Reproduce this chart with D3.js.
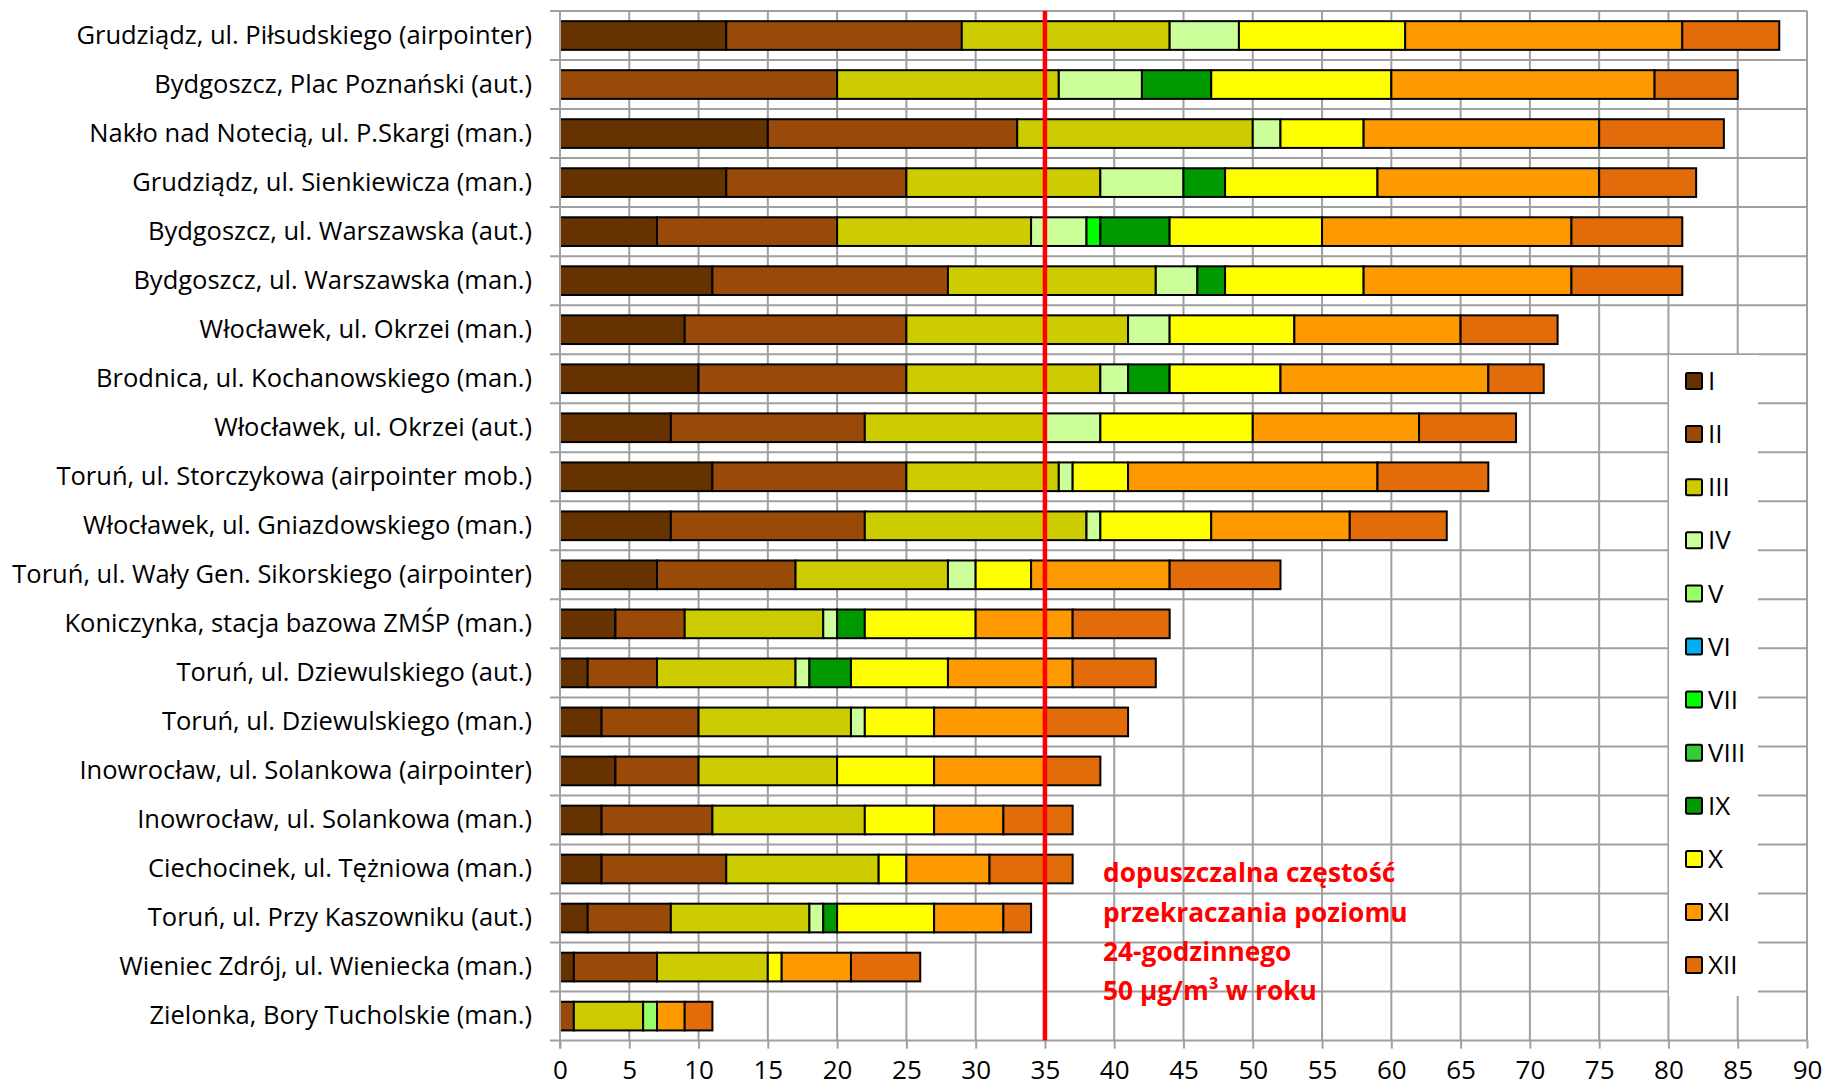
<!DOCTYPE html>
<html>
<head>
<meta charset="utf-8">
<script src="https://cdn.jsdelivr.net/npm/d3@7"></script>
<style>
  body { margin: 0; background: #ffffff; }
  svg { display: block; }
  text { font-family: "Open Sans", Lato, sans-serif; fill: #000; }
</style>
</head>
<body>
<svg id="chart" width="1826" height="1091"></svg>
<script>
// Stations (top to bottom)
const stations = [
  "Grudziądz, ul. Piłsudskiego (airpointer)",
  "Bydgoszcz, Plac Poznański (aut.)",
  "Nakło nad Notecią, ul. P.Skargi (man.)",
  "Grudziądz, ul. Sienkiewicza (man.)",
  "Bydgoszcz, ul. Warszawska (aut.)",
  "Bydgoszcz, ul. Warszawska (man.)",
  "Włocławek, ul. Okrzei (man.)",
  "Brodnica, ul. Kochanowskiego (man.)",
  "Włocławek, ul. Okrzei (aut.)",
  "Toruń, ul. Storczykowa (airpointer mob.)",
  "Włocławek, ul. Gniazdowskiego (man.)",
  "Toruń, ul. Wały Gen. Sikorskiego (airpointer)",
  "Koniczynka, stacja bazowa ZMŚP (man.)",
  "Toruń, ul. Dziewulskiego (aut.)",
  "Toruń, ul. Dziewulskiego (man.)",
  "Inowrocław, ul. Solankowa (airpointer)",
  "Inowrocław, ul. Solankowa (man.)",
  "Ciechocinek, ul. Tężniowa (man.)",
  "Toruń, ul. Przy Kaszowniku (aut.)",
  "Wieniec Zdrój, ul. Wieniecka (man.)",
  "Zielonka, Bory Tucholskie (man.)"
];

// Month keys and their colours
const monthKeys = ["I", "II", "III", "IV", "V", "VI", "VII", "VIII", "IX", "X", "XI", "XII"];
const monthColors = ["#663300", "#994A08", "#CCCC00", "#CCFF99", "#99FF66", "#00B0F0",
                     "#00FF00", "#33CC33", "#009900", "#FFFF00", "#FF9900", "#E36C0A"];

// Days exceeding the 24-hour level, per month, one value per station
const daysI    = [12, 0, 15, 12, 7, 11, 9, 10, 8, 11, 8, 7, 4, 2, 3, 4, 3, 3, 2, 1, 0];
const daysII   = [17, 20, 18, 13, 13, 17, 16, 15, 14, 14, 14, 10, 5, 5, 7, 6, 8, 9, 6, 6, 1];
const daysIII  = [15, 16, 17, 14, 14, 15, 16, 14, 13, 11, 16, 11, 10, 10, 11, 10, 11, 11, 10, 8, 5];
const daysIV   = [5, 6, 2, 6, 4, 3, 3, 2, 4, 1, 1, 2, 1, 1, 1, 0, 0, 0, 1, 0, 0];
const daysV    = [0, 0, 0, 0, 0, 0, 0, 0, 0, 0, 0, 0, 0, 0, 0, 0, 0, 0, 0, 0, 1];
const daysVI   = [0, 0, 0, 0, 0, 0, 0, 0, 0, 0, 0, 0, 0, 0, 0, 0, 0, 0, 0, 0, 0];
const daysVII  = [0, 0, 0, 0, 1, 0, 0, 0, 0, 0, 0, 0, 0, 0, 0, 0, 0, 0, 0, 0, 0];
const daysVIII = [0, 0, 0, 0, 0, 0, 0, 0, 0, 0, 0, 0, 0, 0, 0, 0, 0, 0, 0, 0, 0];
const daysIX   = [0, 5, 0, 3, 5, 2, 0, 3, 0, 0, 0, 0, 2, 3, 0, 0, 0, 0, 1, 0, 0];
const daysX    = [12, 13, 6, 11, 11, 10, 9, 8, 11, 4, 8, 4, 8, 7, 5, 7, 5, 2, 7, 1, 0];
const daysXI   = [20, 19, 17, 16, 18, 15, 12, 15, 12, 18, 10, 10, 7, 9, 8, 8, 5, 6, 5, 5, 2];
const daysXII  = [7, 6, 9, 7, 8, 8, 7, 4, 7, 8, 7, 8, 7, 6, 6, 4, 5, 6, 2, 5, 2];

const monthSeries = [daysI, daysII, daysIII, daysIV, daysV, daysVI,
                     daysVII, daysVIII, daysIX, daysX, daysXI, daysXII];

// Axis ticks and the permitted number of exceedances
const xTicks = [0, 5, 10, 15, 20, 25, 30, 35, 40, 45, 50, 55, 60, 65, 70, 75, 80, 85, 90];
const limitDays = 35;
const limitNote = ["dopuszczalna częstość", "przekraczania poziomu", "24-godzinnego", "50 µg/m³ w roku"];

// Table for the stack layout
const rows = stations.map((s, i) => {
  const r = { station: s };
  monthKeys.forEach((k, j) => { r[k] = monthSeries[j][i]; });
  return r;
});

const svg = d3.select("#chart");
const plot = { left: 560, right: 1807, top: 11, bottom: 1040.6 };

const x = d3.scaleLinear().domain([0, 90]).range([plot.left, plot.right]);
const y = d3.scaleBand().domain(stations).range([plot.top, plot.bottom])
  .paddingInner(0.415).paddingOuter(0.2075);
const color = d3.scaleOrdinal().domain(monthKeys).range(monthColors);

const gridColor = "#a0a0a0";

// Vertical gridlines
svg.append("g").selectAll("line").data(xTicks).join("line")
  .attr("x1", d => x(d)).attr("x2", d => x(d))
  .attr("y1", plot.top).attr("y2", plot.bottom)
  .attr("stroke", gridColor).attr("stroke-width", 2);

// Horizontal gridlines on category boundaries
const gap = (y.step() - y.bandwidth()) / 2;
const bounds = stations.map(s => y(s) - gap).concat([plot.bottom]);
svg.append("g").selectAll("line").data(bounds).join("line")
  .attr("x1", plot.left - 10).attr("x2", plot.right)
  .attr("y1", d => d).attr("y2", d => d)
  .attr("stroke", gridColor).attr("stroke-width", 2);

// Stacked bars
const stacked = d3.stack().keys(monthKeys)(rows);
svg.append("g").selectAll("g").data(stacked).join("g")
  .attr("fill", d => color(d.key))
  .selectAll("rect")
  .data(d => d.filter(p => p[1] - p[0] > 0))
  .join("rect")
  .attr("x", p => x(p[0]))
  .attr("y", p => y(p.data.station))
  .attr("width", p => x(p[1]) - x(p[0]))
  .attr("height", y.bandwidth())
  .attr("stroke", "#000").attr("stroke-width", 2);

// Limit line
svg.append("line")
  .attr("x1", x(limitDays)).attr("x2", x(limitDays))
  .attr("y1", plot.top).attr("y2", plot.bottom)
  .attr("stroke", "#ff0000").attr("stroke-width", 4.5);

// Category axis labels
const yAxis = svg.append("g")
  .attr("transform", `translate(${plot.left},0)`)
  .call(d3.axisLeft(y).tickSize(0).tickPadding(28));
yAxis.select(".domain").remove();
yAxis.selectAll("text").style("font-size", "25.5px").style("font-family", "'Open Sans', sans-serif");

// Value axis
const xAxis = svg.append("g")
  .attr("transform", `translate(0,${plot.bottom})`)
  .call(d3.axisBottom(x).tickValues(xTicks).tickSize(8).tickPadding(12));
xAxis.select(".domain").remove();
xAxis.selectAll("line").attr("stroke", gridColor).attr("stroke-width", 2);
xAxis.selectAll("text").style("font-size", "26px").style("font-family", "'Open Sans', sans-serif");

// Left axis line
svg.append("line")
  .attr("x1", plot.left).attr("x2", plot.left)
  .attr("y1", plot.top).attr("y2", plot.bottom + 8)
  .attr("stroke", gridColor).attr("stroke-width", 2);

// Note on the permitted frequency
svg.append("g").selectAll("text").data(limitNote).join("text")
  .attr("x", 1103)
  .attr("y", (d, i) => 873 + i * 39.4)
  .attr("dy", "0.35em")
  .style("fill", "#ff0000")
  .style("font-weight", "bold")
  .style("font-size", "26.3px")
  .text(d => d);

// Legend
const legend = svg.append("g");
legend.append("rect")
  .attr("x", 1669).attr("y", 355).attr("width", 89).attr("height", 641)
  .attr("fill", "#fff");
const item = legend.selectAll("g").data(monthKeys).join("g")
  .attr("transform", (d, i) => `translate(1686,${381 + i * 53.1})`);
item.append("rect")
  .attr("x", 0).attr("y", -8).attr("width", 16).attr("height", 16)
  .attr("rx", 1.5)
  .attr("fill", d => color(d))
  .attr("stroke", "#000").attr("stroke-width", 2);
item.append("text")
  .attr("x", 22).attr("y", 0).attr("dy", "0.35em")
  .style("font-size", "26px")
  .text(d => d);
</script>
</body>
</html>
